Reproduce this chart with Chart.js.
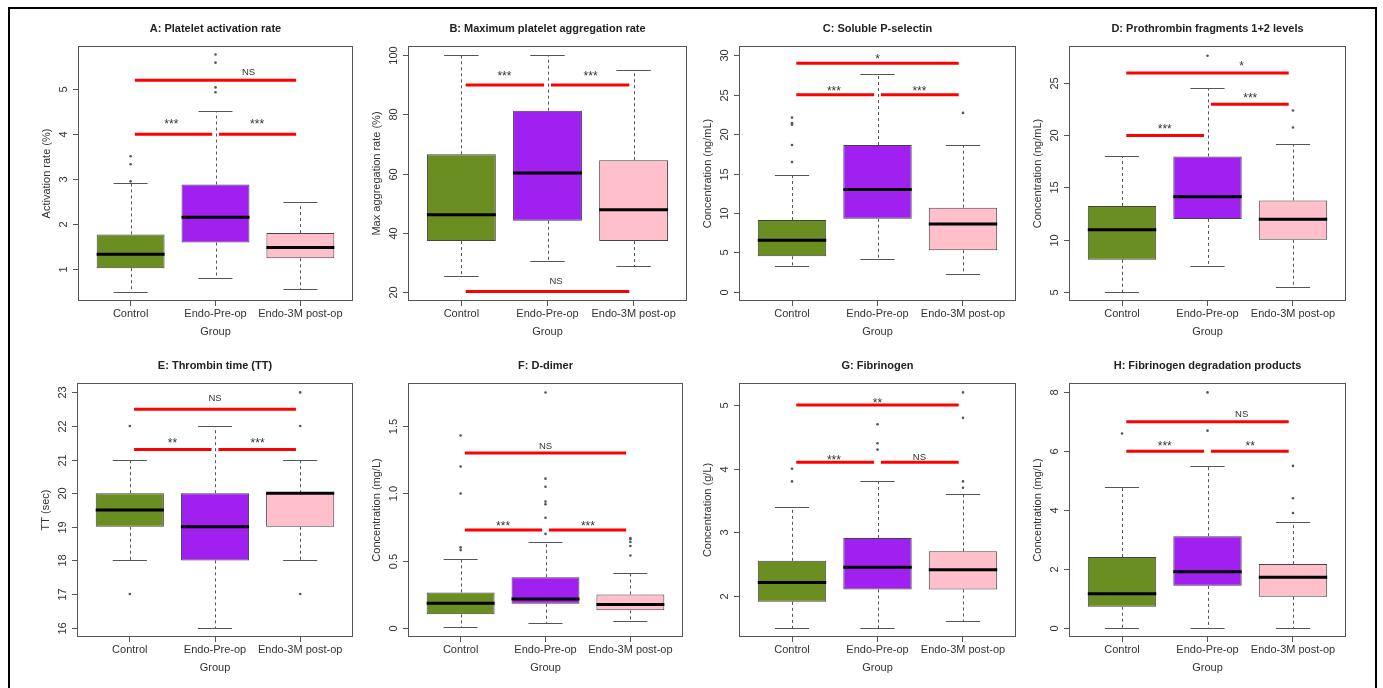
<!DOCTYPE html>
<html>
<head>
<meta charset="utf-8">
<script src="https://cdn.jsdelivr.net/npm/chart.js@4.4.1/dist/chart.umd.min.js"></script>
<style>
  body { margin: 0; background: #fff; width: 1383px; height: 688px; overflow: hidden; position: relative; }
  #frame { position: absolute; left: 8px; top: 7px; width: 1369px; height: 720px; border: 2px solid #000; box-sizing: border-box; }
  canvas { position: absolute; }
</style>
</head>
<body>
<div id="frame"></div>
<script>
const groups = ['Control', 'Endo-Pre-op', 'Endo-3M post-op'];

const panelTitles = [
  'A: Platelet activation rate', 'B: Maximum platelet aggregation rate',
  'C: Soluble P-selectin', 'D: Prothrombin fragments 1+2 levels',
  'E: Thrombin time (TT)', 'F: D-dimer', 'G: Fibrinogen',
  'H: Fibrinogen degradation products'
];
const yTitles = [
  'Activation rate (%)', 'Max aggregation rate (%)', 'Concentration (ng/mL)',
  'Concentration (ng/mL)', 'TT (sec)', 'Concentration (mg/L)',
  'Concentration (g/L)', 'Concentration (mg/L)'
];
const yTickLabels = [
  ['1', '2', '3', '4', '5'],
  ['20', '40', '60', '80', '100'],
  ['0', '5', '10', '15', '20', '25', '30'],
  ['5', '10', '15', '20', '25'],
  ['16', '17', '18', '19', '20', '21', '22', '23'],
  ['0.0', '0.5', '1.0', '1.5'],
  ['2', '3', '4', '5'],
  ['0', '2', '4', '6', '8']
];

// box statistics, one row per panel, one value per group
const whiskerLow = [
  [0.49, 0.80, 0.55], [25.3, 30.3, 28.8], [3.2, 4.14, 2.26], [4.97, 7.48, 5.45],
  [18, 16, 18], [0.01, 0.042, 0.054], [1.5, 1.5, 1.6], [0, 0, 0]
];
const q1 = [
  [1.02, 1.59, 1.24], [37.1, 44.0, 37.1], [4.48, 9.25, 5.25], [8.05, 11.98, 9.98],
  [19, 18, 19], [0.103, 0.182, 0.133], [1.905, 2.1, 2.1], [0.71, 1.42, 1.05]
];
const median = [
  [1.33, 2.15, 1.48], [46.0, 60.2, 47.7], [6.52, 12.96, 8.57], [10.95, 14.1, 11.95],
  [19.5, 19, 20], [0.185, 0.217, 0.177], [2.21, 2.45, 2.41], [1.15, 1.9, 1.71]
];
const q3 = [
  [1.77, 2.88, 1.80], [66.5, 81.3, 64.5], [9.08, 18.62, 10.66], [13.23, 17.99, 13.75],
  [20, 20, 20], [0.266, 0.379, 0.251], [2.55, 2.91, 2.70], [2.4, 3.11, 2.16]
];
const whiskerHigh = [
  [2.92, 4.52, 2.49], [100, 100, 95.2], [14.87, 27.66, 18.62], [18.02, 24.55, 19.18],
  [21, 22, 21], [0.512, 0.643, 0.411], [3.4, 3.81, 3.6], [4.79, 5.51, 3.58]
];
const outliers = [
  [[2.95, 3.33, 3.51], [4.93, 5.04, 5.59, 5.77], []],
  [[], [], []],
  [[16.45, 18.62, 21.2, 21.4, 22.1], [], [22.7]],
  [[], [27.67], [20.76, 22.4]],
  [[17, 22], [], [17, 22, 23]],
  [[0.58, 0.6, 1.0, 1.2, 1.43], [0.7, 0.82, 0.92, 0.94, 1.05, 1.11, 1.75], [0.54, 0.61, 0.64, 0.66, 0.67]],
  [[3.8, 4.0], [4.3, 4.4, 4.7], [3.7, 3.8, 4.8, 5.2]],
  [[6.6], [6.7, 8.0], [3.9, 4.4, 5.5]]
];

// significance bars: Control vs Pre, Pre vs 3M, Control vs 3M
const sigFrom = [1.05, 2.04, 1.05];
const sigTo = [1.96, 2.95, 2.95];
const sigLevel = [
  [4, 4, 5.2], [90, 90, 20], [25, 25, 29], [20, 23, 26],
  [21.3, 21.3, 22.5], [0.73, 0.73, 1.3], [4.1, 4.1, 5.0], [6, 6, 7]
];
const sigText = [
  ['***', '***', 'NS'], ['***', '***', 'NS'], ['***', '***', '*'], ['***', '***', '*'],
  ['**', '***', 'NS'], ['***', '***', 'NS'], ['***', 'NS', '**'], ['***', '**', 'NS']
];
const sigTextX = [
  [1.48, 2.49, 2.39], [1.50, 2.50, 2.10], [1.49, 2.49, 2.0], [1.50, 2.50, 2.40],
  [1.50, 2.50, 2.0], [1.50, 2.50, 2.0], [1.49, 2.49, 2.0], [1.50, 2.50, 2.40]
];
const sigTextY = [
  [4.28, 4.28, 5.39], [94.0, 94.0, 23.6], [25.8, 25.8, 29.9], [20.85, 23.84, 26.9],
  [21.57, 21.57, 22.85], [0.78, 0.78, 1.355], [4.18, 4.19, 5.08], [6.28, 6.28, 7.27]
];

// axis limits
const yMin = [0.29, 16.8, -1.2, 4.09, 15.72, -0.065, 1.352, -0.32];
const yMax = [5.96, 103.2, 31.2, 28.6, 23.28, 1.82, 5.348, 8.32];

// layout of the plot regions
const plotLeft = [78, 408, 739, 1069, 77, 408, 739, 1069];
const plotWidth = [275, 275, 277, 277, 276, 275, 277, 277];
const plotTop = [46, 46, 46, 46, 383, 383, 383, 383];
const plotHeight = [255, 255, 255, 255, 254, 254, 254, 254];

const boxColors = ['#6B8E23', '#A020F0', '#FFC0CB'];
const FONT = '"Liberation Sans", Arial, sans-serif';

function line(ctx, x1, y1, x2, y2) {
  ctx.beginPath();
  ctx.moveTo(x1, y1);
  ctx.lineTo(x2, y2);
  ctx.stroke();
}

const boxParts = {
  id: 'boxParts',
  afterDatasetsDraw(chart, args, opts) {
    const p = opts.panel;
    const {ctx, chartArea: a} = chart;
    const x = chart.scales.x;
    const y = chart.scales.y;
    ctx.save();

    groups.forEach((g, i) => {
      const cx = Math.round(x.getPixelForValue(i + 1)) + 0.5;
      const capL = x.getPixelForValue(i + 1 - 0.2);
      const capR = x.getPixelForValue(i + 1 + 0.2);
      const hi = Math.round(y.getPixelForValue(whiskerHigh[p][i])) + 0.5;
      const lo = Math.round(y.getPixelForValue(whiskerLow[p][i])) + 0.5;
      ctx.strokeStyle = '#555';
      ctx.lineWidth = 1;
      ctx.setLineDash([3, 3]);
      line(ctx, cx, y.getPixelForValue(q3[p][i]), cx, hi);
      line(ctx, cx, y.getPixelForValue(q1[p][i]), cx, lo);
      ctx.setLineDash([]);
      line(ctx, capL, hi, capR, hi);
      line(ctx, capL, lo, capR, lo);

      const my = y.getPixelForValue(median[p][i]);
      ctx.strokeStyle = '#000';
      ctx.lineWidth = 3;
      line(ctx, x.getPixelForValue(i + 1 - 0.4), my, x.getPixelForValue(i + 1 + 0.4), my);
    });

    // plot frame
    ctx.strokeStyle = '#555';
    ctx.lineWidth = 1;
    ctx.strokeRect(a.left + 0.5, a.top + 0.5, a.width - 1, a.height - 1);

    // y ticks, R style rotated labels
    ctx.fillStyle = '#333';
    ctx.font = '11px ' + FONT;
    ctx.textAlign = 'center';
    ctx.textBaseline = 'middle';
    y.ticks.forEach((t) => {
      const py = Math.round(y.getPixelForValue(t.value)) + 0.5;
      line(ctx, a.left - 5, py, a.left, py);
      ctx.save();
      ctx.translate(a.left - 14, py);
      ctx.rotate(-Math.PI / 2);
      ctx.fillText(t.label, 0, 0);
      ctx.restore();
    });

    // significance labels
    ctx.fillStyle = '#333';
    sigText[p].forEach((s, k) => {
      const star = s.includes('*');
      ctx.font = (star ? '12px ' : '9.5px ') + FONT;
      const px = x.getPixelForValue(sigTextX[p][k]);
      const py = y.getPixelForValue(sigTextY[p][k]) + (star ? 3.3 : 0.5);
      ctx.fillText(s, px, py);
    });
    ctx.restore();
  }
};

function buildPanel(canvas, p) {
  const boxData = groups.map((g, i) => ({ x: i + 1, y: [q1[p][i], q3[p][i]] }));
  const outData = [];
  outliers[p].forEach((vals, i) => vals.forEach((v) => outData.push({ x: i + 1, y: v })));

  const datasets = [
    {
      type: 'bar', data: boxData, backgroundColor: boxColors, borderColor: '#444',
      borderWidth: 1, borderSkipped: false, barPercentage: 0.8, categoryPercentage: 1, order: 3
    },
    {
      type: 'scatter', data: outData, pointRadius: 1.3, pointBackgroundColor: '#555',
      pointBorderWidth: 0, order: 2
    }
  ];
  sigFrom.forEach((f, k) => {
    datasets.push({
      type: 'line',
      data: [{ x: f, y: sigLevel[p][k] }, { x: sigTo[k], y: sigLevel[p][k] }],
      borderColor: '#ff0000', borderWidth: 3, pointRadius: 0, borderCapStyle: 'butt', order: 1
    });
  });

  new Chart(canvas, {
    type: 'bar',
    data: { datasets: datasets },
    plugins: [boxParts],
    options: {
      responsive: false,
      animation: false,
      devicePixelRatio: 1,
      layout: { padding: 0 },
      plugins: {
        legend: { display: false },
        tooltip: { enabled: false },
        boxParts: { panel: p },
        title: {
          display: true, text: panelTitles[p], color: '#222', fullSize: false,
          font: { family: FONT, size: 11, weight: 'bold', lineHeight: 1.2 },
          padding: { top: 16.4, bottom: 10.4 }
        }
      },
      scales: {
        x: {
          type: 'linear', min: 0.38, max: 3.62, offset: false, bounds: 'data',
          afterBuildTicks: (s) => { s.ticks = groups.map((g, i) => ({ value: i + 1 })); },
          afterFit: (s) => { s.height = 46; },
          ticks: {
            autoSkip: false, maxRotation: 0, minRotation: 0, padding: 1, color: '#333',
            font: { family: FONT, size: 11 },
            callback: (v) => groups[v - 1]
          },
          grid: { display: true, drawOnChartArea: false, drawTicks: true, tickLength: 5, color: '#555', offset: false },
          border: { display: false },
          title: {
            display: true, text: 'Group', color: '#333',
            font: { family: FONT, size: 11, lineHeight: 1.2 },
            padding: { top: 0, bottom: 8.4 }
          }
        },
        y: {
          type: 'linear', min: yMin[p], max: yMax[p], beginAtZero: false, bounds: 'data',
          afterBuildTicks: (s) => { s.ticks = yTickLabels[p].map((t) => ({ value: parseFloat(t), label: t })); },
          afterFit: (s) => { s.width = 45; },
          ticks: { display: false },
          grid: { display: false },
          border: { display: false },
          title: {
            display: true, text: yTitles[p], color: '#333',
            font: { family: FONT, size: 11, lineHeight: 1.2 },
            padding: { top: 7.4, bottom: 0 }
          }
        }
      }
    }
  });
}

for (let p = 0; p < 8; p++) {
  const c = document.createElement('canvas');
  const w = plotWidth[p] + 49;
  const h = plotHeight[p] + 86;
  c.width = w;
  c.height = h;
  c.style.width = w + 'px';
  c.style.height = h + 'px';
  c.style.left = (plotLeft[p] - 45) + 'px';
  c.style.top = (plotTop[p] - 40) + 'px';
  document.body.appendChild(c);
  buildPanel(c, p);
}
</script>
</body>
</html>
